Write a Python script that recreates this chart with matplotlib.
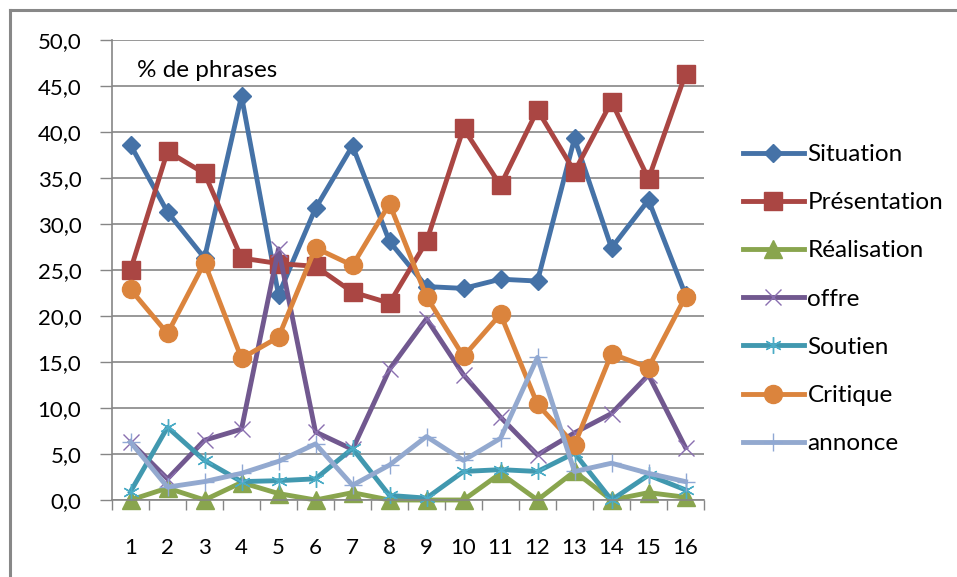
import matplotlib
matplotlib.use("Agg")
import matplotlib.pyplot as plt
from matplotlib.lines import Line2D
from matplotlib.ticker import FixedLocator, FuncFormatter

plt.rcParams['font.family'] = ['Lato', 'DejaVu Sans']

categories = list(range(1, 17))
situation = [38.6, 31.3, 26.3, 43.9, 22.3, 31.7, 38.5, 28.1, 23.2, 23.0, 24.0, 23.8, 39.3, 27.4, 32.6, 22.3]
presentation = [25.0, 37.9, 35.5, 26.3, 25.7, 25.4, 22.6, 21.4, 28.1, 40.4, 34.2, 42.4, 35.7, 43.3, 34.9, 46.3]
realisation = [0.0, 1.3, 0.0, 1.9, 0.7, 0.0, 0.8, 0.0, 0.0, 0.0, 2.9, 0.0, 3.1, 0.0, 0.8, 0.3]
offre = [6.3, 2.3, 6.5, 7.7, 27.3, 7.4, 5.5, 14.2, 19.7, 13.6, 9.0, 4.9, 7.3, 9.4, 13.6, 5.7]
soutien = [0.9, 7.9, 4.3, 2.0, 2.1, 2.3, 5.6, 0.5, 0.2, 3.1, 3.3, 3.1, 5.1, 0.0, 2.7, 1.1]
critique = [22.9, 18.1, 25.8, 15.4, 17.7, 27.4, 25.5, 32.2, 22.1, 15.6, 20.2, 10.4, 6.0, 15.9, 14.4, 22.1]
annonce = [6.3, 1.4, 2.0, 2.9, 4.2, 6.1, 1.6, 3.8, 6.9, 4.3, 6.7, 15.5, 3.1, 4.0, 2.9, 2.0]
series_names = ["Situation", "Présentation", "Réalisation", "offre", "Soutien", "Critique", "annonce"]
y_label_text = "% de phrases"

fig = plt.figure(figsize=(9.57, 5.77), dpi=100)
ax = fig.add_axes([112/957, 1-500/577, 592/957, 460/577])

lw = 3.5
styles = [
    (situation, "#4572A7", dict(marker='D', ms=9.5)),
    (presentation, "#AA4643", dict(marker='s', ms=13)),
    (realisation, "#89A54E", dict(marker='^', ms=13)),
    (offre, "#71588F", dict(marker='x', ms=11, mew=1.0, mec="#8A6FB0")),
    (soutien, "#4198AF", dict(marker=(6, 2, 0), ms=12, mew=1.0, mec="#4BACC6")),
    (critique, "#DB843D", dict(marker='o', ms=13)),
    (annonce, "#93A9CF", dict(marker='+', ms=13, mew=1.0, mec="#8FA8D4")),
]
for (vals, col, mk), name in zip(styles, series_names):
    ax.plot(categories, vals, color=col, lw=lw, label=name, clip_on=False, **mk)

grid_col = "#868686"
ax.set_xlim(0.5, 16.5)
ax.set_ylim(0, 50)
ax.set_yticks([0, 5, 10, 15, 20, 25, 30, 35, 40, 45, 50])
ax.yaxis.set_major_formatter(FuncFormatter(lambda v, p: f"{v:.1f}".replace(".", ",")))
ax.set_xticks(categories)
ax.xaxis.set_minor_locator(FixedLocator([i + 0.5 for i in range(0, 17)]))
ax.tick_params(axis='x', which='major', length=0, pad=27, labelsize=16)
ax.tick_params(axis='x', which='minor', length=7, color=grid_col, width=1)
ax.tick_params(axis='y', which='major', length=9, color=grid_col, width=1, pad=13, labelsize=16)
ax.grid(axis='y', color=grid_col, lw=1.2)
ax.set_axisbelow(True)
for s in ['top', 'right']:
    ax.spines[s].set_visible(False)
for s in ['left', 'bottom']:
    ax.spines[s].set_color(grid_col)
    ax.spines[s].set_linewidth(1.2)

ax.text(0.042, 0.934, y_label_text, transform=ax.transAxes, fontsize=17.5, va='center', ha='left')

leg = fig.legend(loc='upper left', bbox_to_anchor=(743/957, 1-144/577), frameon=False,
                 fontsize=17.5, labelspacing=1.12, handlelength=2.5, handletextpad=0.15,
                 borderaxespad=0, borderpad=0)

# outer chart border (top and left visible)
bc = "#888888"
fig.add_artist(Line2D([10/957, 10/957], [0, 1-10/577], transform=fig.transFigure, color=bc, lw=2.2))
fig.add_artist(Line2D([10/957, 1], [1-10/577, 1-10/577], transform=fig.transFigure, color=bc, lw=2.2))

fig.savefig("out.png", dpi=100)
